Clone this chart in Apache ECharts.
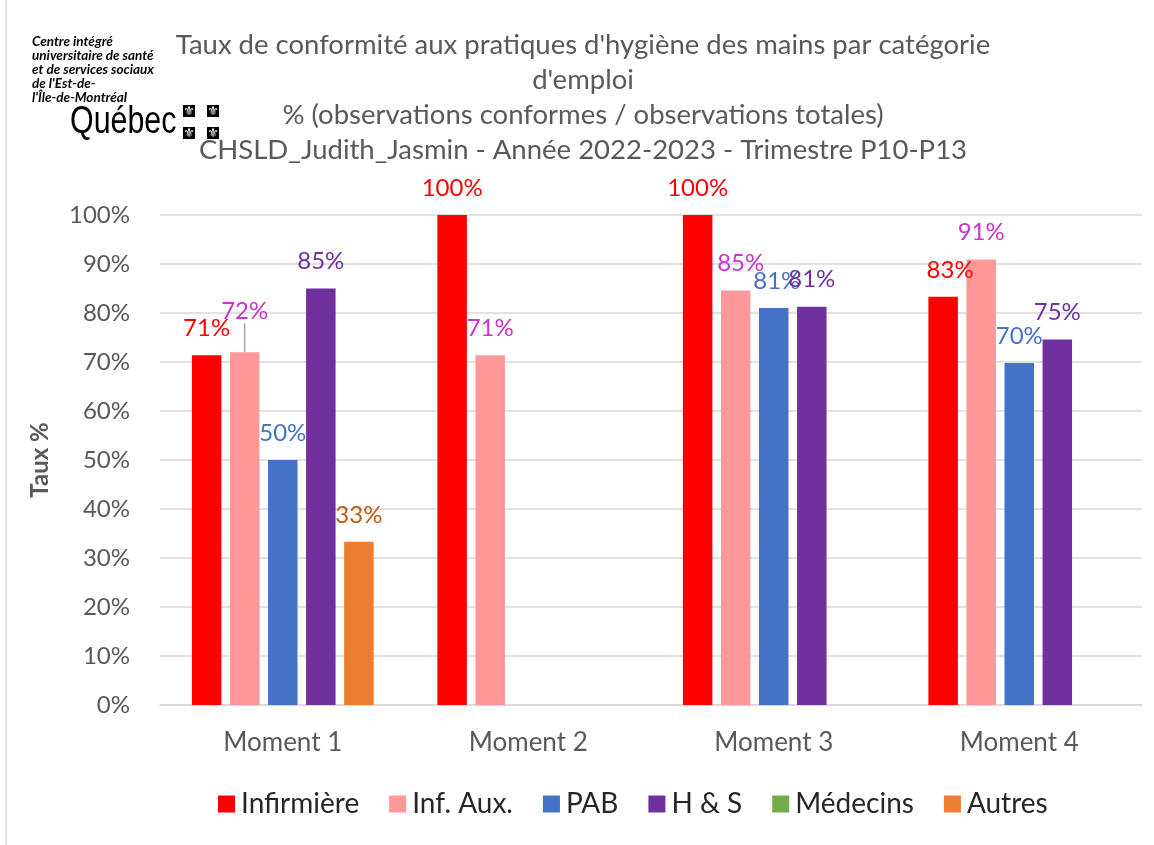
<!DOCTYPE html>
<html>
<head>
<meta charset="utf-8">
<script src="https://cdn.jsdelivr.net/npm/echarts@6/dist/echarts.min.js"></script>
<style>
  html, body { margin: 0; padding: 0; background: #fff; }
  #chart { width: 1154px; height: 845px; }
</style>
</head>
<body>
<div id="chart"></div>
<script>
var moments = ['Moment 1', 'Moment 2', 'Moment 3', 'Moment 4'];
var infirmiere = [71.4, 100, 100, 83.3];
var infAux = [72.0, 71.4, 84.6, 90.9];
var pab = [50.0, null, 81.0, 69.8];
var hs = [85.0, null, 81.3, 74.6];
var medecins = [null, null, null, null];
var autres = [33.3, null, null, null];
var yTicks = [0, 100, 10];

// petits decalages des etiquettes (deplacees a la main dans l'original)
var nudge = {
  'Inf. Aux.': [[0, -14], [0, 0], [5, 0], [0, 0]],
  'PAB': [[0, 0], [0, 0], [3, 0], [0, 0]],
  'Infirmière': [[0, 0], [0, 0], [0, 0], [7, 0]]
};

var font = 'Lato';
var grey = '#595959';

function pct(p) {
  return Math.round(p.value) + '%';
}

function barSerie(name, data, color, labelColor) {
  return {
    name: name,
    type: 'bar',
    barWidth: 29.5,
    barGap: '29%',
    data: data,
    itemStyle: { color: color },
    label: {
      show: true,
      position: 'top',
      distance: 15,
      color: labelColor,
      fontFamily: font,
      fontSize: 24,
      formatter: pct
    },
    labelLayout: function (params) {
      var n = nudge[name];
      if (!n) return {};
      var d = n[params.dataIndex];
      return { dx: d[0], dy: d[1] };
    }
  };
}

var infAuxData = infAux.map(function (v, i) {
  if (i === 0) {
    return { value: v, labelLine: { show: true, lineStyle: { color: '#a6a6a6', width: 1.5 } } };
  }
  return v;
});

var sInf = barSerie('Infirmière', infirmiere, '#ff0000', '#ff0000');
var sAux = barSerie('Inf. Aux.', infAuxData, '#ff9999', '#cc33cc');
var sPab = barSerie('PAB', pab, '#4472c4', '#4472c4');
var sHs = barSerie('H & S', hs, '#7030a0', '#7030a0');
var sAutres = barSerie('Autres', autres, '#ed7d31', '#c55a11');
sAutres.stack = 'ma';
var sMed = barSerie('Médecins', medecins, '#70ad47', '#70ad47');
sMed.stack = 'ma';
sMed.label.show = false;

var fleur = [[183, 105], [207, 105], [183, 127], [207, 127]];

var myChart = echarts.init(document.getElementById('chart'), null, { renderer: 'canvas' });

var graphics = [
  {
    type: 'line',
    shape: { x1: 6, y1: 0, x2: 6, y2: 845 },
    style: { stroke: '#d9d9d9', lineWidth: 1.5 }
  },
  {
    type: 'text',
    left: 32,
    top: 35,
    style: {
      text: "Centre intégré\nuniversitaire de santé\net de services sociaux\nde l'Est-de-\nl'Île-de-Montréal",
      font: 'italic bold 13.5px Lato',
      lineHeight: 14,
      fill: '#000'
    }
  },
  {
    type: 'text',
    x: 70,
    y: 104,
    scaleX: 0.8,
    style: {
      text: 'Québec',
      font: '38px "Liberation Sans"',
      fill: '#000'
    }
  }
];
fleur.forEach(function (f) {
  graphics.push({ type: 'rect', shape: { x: f[0], y: f[1], width: 12, height: 12 }, style: { fill: '#000' } });
  graphics.push({ type: 'text', x: f[0] + 6, y: f[1] + 6.5, style: { text: '⚜', font: '13px "DejaVu Sans"', fill: '#fff', align: 'center', verticalAlign: 'middle' } });
});

var option = {
  backgroundColor: '#ffffff',
  animation: false,
  title: {
    text: "Taux de conformité aux pratiques d'hygiène des mains par catégorie\nd'emploi\n% (observations conformes / observations totales)\nCHSLD_Judith_Jasmin - Année 2022-2023 - Trimestre P10-P13",
    left: 578,
    top: 22,
    textAlign: 'center',
    textStyle: {
      fontFamily: font,
      fontSize: 27.5,
      fontWeight: 'normal',
      color: grey,
      lineHeight: 35.3
    }
  },
  legend: {
    data: ['Infirmière', 'Inf. Aux.', 'PAB', 'H & S', 'Médecins', 'Autres'],
    left: 213,
    top: 785,
    icon: 'rect',
    itemWidth: 17,
    itemHeight: 17,
    itemGap: 30,
    textStyle: {
      fontFamily: font,
      fontSize: 28,
      color: '#262626',
      padding: [0, 0, 0, 1]
    }
  },
  grid: {
    left: 160,
    right: 12,
    top: 215,
    bottom: 140,
    containLabel: false
  },
  xAxis: {
    type: 'category',
    data: moments,
    axisTick: { show: false },
    axisLine: { lineStyle: { color: '#d9d9d9', width: 1.5 } },
    axisLabel: {
      margin: 25,
      fontFamily: font,
      fontSize: 26,
      color: grey
    }
  },
  yAxis: {
    type: 'value',
    min: yTicks[0],
    max: yTicks[1],
    interval: yTicks[2],
    name: 'Taux %',
    nameLocation: 'middle',
    nameGap: 108,
    nameTextStyle: {
      fontFamily: font,
      fontSize: 24,
      fontWeight: 'bold',
      color: grey
    },
    axisLine: { show: false },
    axisTick: { show: false },
    splitLine: { lineStyle: { color: '#d9d9d9', width: 1.5 } },
    axisLabel: {
      margin: 30,
      fontFamily: font,
      fontSize: 24,
      color: grey,
      formatter: '{value}%'
    }
  },
  graphic: graphics,
  series: [sInf, sAux, sPab, sHs, sAutres, sMed]
};

myChart.setOption(option);
</script>
</body>
</html>
